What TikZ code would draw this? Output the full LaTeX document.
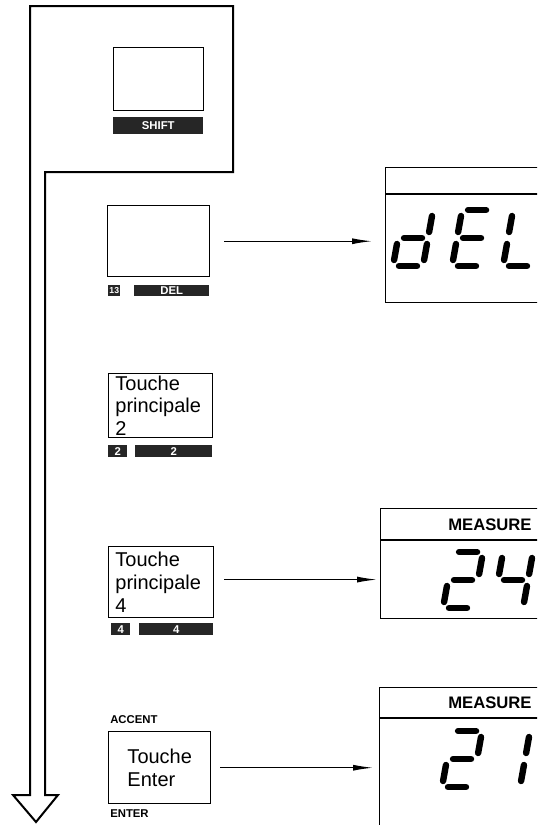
\documentclass[tikz,border=0pt]{standalone}
\usepackage{fontspec}
\setmainfont{Liberation Sans}
\usetikzlibrary{positioning,arrows.meta,calc}
\tikzset{
  keybox/.style={draw=black, line width=1.1pt, anchor=north west, inner sep=1pt, align=left, font=\fontsize{15}{17}\selectfont},
  keybar/.style={fill=black!85, text=white, anchor=north west, inner sep=0pt, font=\fontsize{8.5}{9}\selectfont\bfseries},
  keycap/.style={anchor=west, inner sep=0pt, font=\fontsize{8.5}{9}\selectfont\bfseries},
  dispbox/.style={draw=black, line width=1.1pt, anchor=north west, inner sep=0pt},
  disptag/.style={anchor=west, inner sep=0pt, font=\fontsize{12.5}{13}\selectfont\bfseries},
  arr/.style={-{Latex[length=15pt,width=4.5pt]}, line width=0.9pt},
  segline/.style={line width=4.8pt, line cap=round},
  sevenseg/.pic={
    \begin{scope}[y=0.75pt, xslant=0.18]
      \coordinate (a1) at (6,56);  \coordinate (a2) at (24,56);
      \coordinate (b1) at (30,50); \coordinate (b2) at (30,34);
      \coordinate (c1) at (30,22); \coordinate (c2) at (30,6);
      \coordinate (d1) at (6,0);   \coordinate (d2) at (24,0);
      \coordinate (e1) at (0,22);  \coordinate (e2) at (0,6);
      \coordinate (f1) at (0,50);  \coordinate (f2) at (0,34);
      \coordinate (g1) at (6,28);  \coordinate (g2) at (24,28);
      \foreach \s in {#1} {\draw[segline] (\s1) -- (\s2);}
    \end{scope}
  },
}

\begin{document}
\begin{tikzpicture}[x=0.75pt,y=-0.75pt]
  \useasboundingbox (0,0) rectangle (537,825);
  \clip (0,0) rectangle (537,825);
  % flow arrow
  \draw[line width=1.5pt, line join=miter] (30,6) -- (233,6) -- (233,172) -- (45,172) -- (45,795)
    -- (58,795) -- (36,822) -- (13,795) -- (30,795) -- cycle;
  % keys
  \node[keybox, minimum width=67.5pt, minimum height=47.25pt] (shiftkey) at (113,47) {};
  \node[keybar, minimum width=67.5pt, minimum height=12.75pt] (shiftbar) at (113,117) {SHIFT};
  \node[keybox, minimum width=76.5pt, minimum height=53.25pt] (delkey) at (107,205) {};
  \node[keybar, minimum width=9pt, minimum height=8.25pt, font=\fontsize{6.5}{7}\selectfont\bfseries] (delnum) at (108,285) {13};
  \node[keybar, minimum width=56.25pt, minimum height=8.25pt] (delbar) at (134,285) {DEL};
  \node[keybox, text width=68pt, inner xsep=5pt, minimum height=48pt] (key2) at (108,373) {Touche\\principale\\2};
  \node[keybar, minimum width=14.25pt, minimum height=9pt] (key2num) at (108,445) {2};
  \node[keybar, minimum width=57.75pt, minimum height=9pt] (key2bar) at (135,445) {2};
  \node[keybox, text width=68.75pt, inner xsep=5pt, minimum height=53.25pt] (key4) at (108,546) {Touche\\principale\\4};
  \node[keybar, minimum width=14.25pt, minimum height=9pt] (key4num) at (111,623) {4};
  \node[keybar, minimum width=55.5pt, minimum height=9pt] (key4bar) at (139,623) {4};
  \node[keycap] (accentcap) at (110,720) {ACCENT};
  \node[keybox, minimum width=76.5pt, minimum height=54pt] (enterkey) at (108,731) {Touche\\Enter};
  \node[keycap] (entercap) at (110,814) {ENTER};
  % displays
  \node[dispbox, minimum width=190pt, minimum height=101.25pt] (deldisp) at (385,167) {};
  \draw[line width=1.1pt] ([yshift=-20.25pt]deldisp.north west) -- ([yshift=-20.25pt]deldisp.north east);
  \pic at (393,266) {sevenseg={b,c,d,e,g}};
  \pic at (452,266) {sevenseg={a,d,e,f,g}};
  \pic at (503,266) {sevenseg={d,e,f}};
  \node[dispbox, minimum width=190pt, minimum height=82.5pt] (disp24) at (380,508) {};
  \draw[line width=1.1pt] ([yshift=-24pt]disp24.north west) -- ([yshift=-24pt]disp24.north east);
  \node[disptag] (tag24) at (448,525) {MEASURE};
  \pic at (443,608) {sevenseg={a,b,g,e,d}};
  \pic at (493,608) {sevenseg={f,g,b,c}};
  \node[dispbox, minimum width=190pt, minimum height=112.5pt] (disp21) at (379,687) {};
  \draw[line width=1.1pt] ([yshift=-23.25pt]disp21.north west) -- ([yshift=-23.25pt]disp21.north east);
  \node[disptag] (tag21) at (448,703) {MEASURE};
  \pic at (442,787) {sevenseg={a,b,g,e,d}};
  \pic at (490,787) {sevenseg={b,c}};
  % arrows
  \draw[arr, shorten <=10.5pt, shorten >=9.75pt] (delkey.east) -- (delkey.east -| deldisp.west);
  \draw[arr, shorten <=7.5pt, shorten >=2.25pt] ([yshift=2pt]key4.east) -- ([yshift=2pt]key4.east -| disp24.west);
  \draw[arr, shorten <=6.75pt, shorten >=4.5pt] (enterkey.east) -- (enterkey.east -| disp21.west);
\end{tikzpicture}
\end{document}
